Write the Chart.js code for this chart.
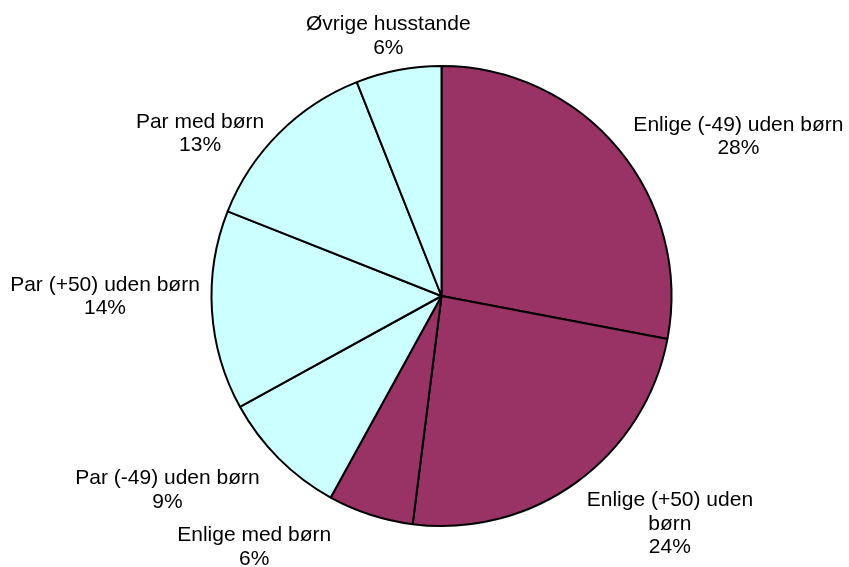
<!DOCTYPE html>
<html>
<head>
<meta charset="utf-8">
<script src="https://cdn.jsdelivr.net/npm/chart.js@4.4.1/dist/chart.umd.min.js"></script>
<style>
  html, body { margin: 0; padding: 0; background: #ffffff; }
  #wrap { width: 849px; height: 567px; position: relative; }
</style>
</head>
<body>
<div id="wrap"><canvas id="c" width="849" height="567"></canvas></div>
<script>
// ---- data ----
const categories = [
  "Enlige (-49) uden børn",
  "Enlige (+50) uden børn",
  "Enlige med børn",
  "Par (-49) uden børn",
  "Par (+50) uden børn",
  "Par med børn",
  "Øvrige husstande"
];
const shares = [28, 24, 6, 9, 14, 13, 6];
const percentLabels = ["28%", "24%", "6%", "9%", "14%", "13%", "6%"];

// ---- styling ----
const MAROON = "#993366";
const CYAN = "#CCFFFF";
const sliceColors = [MAROON, MAROON, MAROON, CYAN, CYAN, CYAN, CYAN];

// label placement relative to the pie: angle (deg clockwise from top), distance in radii
const labelPlacement = [
  { angle: 61.5, dist: 1.469 },
  { angle: 134.7, dist: 1.397 },
  { angle: 216.9, dist: 1.356 },
  { angle: 234.9, dist: 1.456 },
  { angle: 270.2, dist: 1.463 },
  { angle: 304.2, dist: 1.269 },
  { angle: 348.5, dist: 1.160 }
];

const FONT_SIZE = 21;
const LINE_H = 23.5;
const WRAP_W = 212;

function wrapText(ctx, text, maxW) {
  const words = text.split(" ");
  const lines = [];
  let cur = "";
  for (const w of words) {
    const test = cur ? cur + " " + w : w;
    if (ctx.measureText(test).width > maxW && cur) {
      lines.push(cur);
      cur = w;
    } else {
      cur = test;
    }
  }
  if (cur) lines.push(cur);
  return lines;
}

const labelPlugin = {
  id: "sliceLabels",
  afterDraw(chart) {
    const ctx = chart.ctx;
    const meta = chart.getDatasetMeta(0);
    ctx.save();
    ctx.font = FONT_SIZE + "px 'Liberation Sans', Arial, sans-serif";
    ctx.fillStyle = "#000000";
    ctx.textAlign = "center";
    ctx.textBaseline = "alphabetic";
    meta.data.forEach((arc, i) => {
      const p = labelPlacement[i];
      const a = p.angle * Math.PI / 180;
      const cx = arc.x + Math.sin(a) * p.dist * arc.outerRadius;
      const cy = arc.y - Math.cos(a) * p.dist * arc.outerRadius;
      const lines = wrapText(ctx, categories[i], WRAP_W);
      lines.push(percentLabels[i]);
      const n = lines.length;
      const b0 = cy - (n - 1) * LINE_H / 2 + 0.358 * FONT_SIZE;
      lines.forEach((ln, k) => ctx.fillText(ln, cx, b0 + k * LINE_H));
    });
    ctx.restore();
  }
};

new Chart(document.getElementById("c"), {
  type: "pie",
  data: {
    labels: categories,
    datasets: [{
      data: shares,
      backgroundColor: sliceColors,
      borderColor: "#000000",
      borderWidth: 2,
      borderAlign: "center",
      hoverOffset: 0,
      offset: 0
    }]
  },
  options: {
    responsive: false,
    maintainAspectRatio: false,
    animation: false,
    rotation: 0,
    layout: { padding: { left: 210, right: 176, top: 65, bottom: 40 } },
    plugins: {
      legend: { display: false },
      tooltip: { enabled: false }
    }
  },
  plugins: [labelPlugin]
});
</script>
</body>
</html>
